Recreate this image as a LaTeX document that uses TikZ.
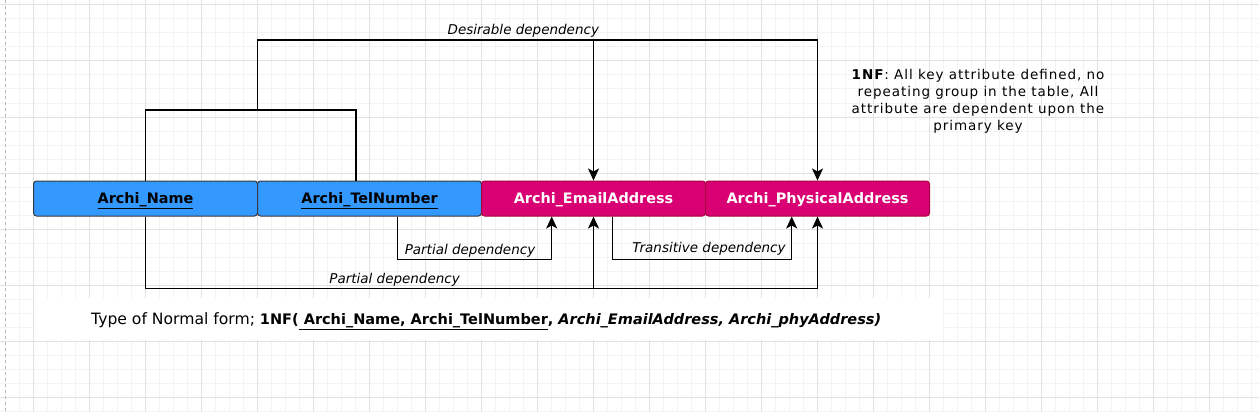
\documentclass[tikz,border=0pt]{standalone}
\usepackage{fontspec}
\setmainfont{DejaVu Sans}
\newfontfamily\spacedfont[LetterSpace=7]{DejaVu Sans}
\usetikzlibrary{arrows.meta}
\definecolor{minorc}{HTML}{F3F3F3}
\definecolor{majorc}{HTML}{E2E2E2}
\definecolor{keyblue}{HTML}{3399FF}
\definecolor{boxline}{HTML}{36393D}
\definecolor{attrpink}{HTML}{D80073}
\definecolor{pinkline}{HTML}{A50040}
\definecolor{pageline}{HTML}{BBBBBB}
\begin{document}
\begin{tikzpicture}[x=1pt,y=-1pt,
  ln/.style={line width=1.3pt, draw=black},
  arr/.style={ln, -{Stealth[length=12pt,width=11pt,inset=3pt]}},
  keybox/.style={draw=boxline, fill=keyblue, rounded corners=3pt, minimum width=224pt, minimum height=35pt, line width=1pt, inner sep=0pt, text depth=1pt, font=\fontsize{14.4}{16}\selectfont\bfseries},
  attrbox/.style={keybox, draw=pinkline, fill=attrpink, text=white},
  lbl/.style={font=\fontsize{13.5}{16}\selectfont\itshape, inner sep=0pt}]
\useasboundingbox (0,0) rectangle (1259,412);
\fill[white] (0,0) rectangle (1259,412);
% grid
\foreach \x in {5,19,...,1259} \draw[minorc, line width=1pt] (\x,0) -- (\x,412);
\foreach \y in {5,19,...,412} \draw[minorc, line width=1pt] (0,\y) -- (1259,\y);
\foreach \x in {33,89,...,1259} \draw[majorc, line width=1pt] (\x,0) -- (\x,412);
\foreach \y in {5,61,...,412} \draw[majorc, line width=1pt] (0,\y) -- (1259,\y);
\draw[pageline, line width=1pt, dash pattern=on 3pt off 3pt] (5,0) -- (5,412);
\fill[white] (34,298) rectangle (943,340);

% boxes
\node[keybox] (name) at (145.5,198.5) {\underline{Archi\_Name}};
\node[keybox] (tel) at (369.5,198.5) {\underline{Archi\_TelNumber}};
\node[attrbox] (email) at (593.5,198.5) {Archi\_EmailAddress};
\node[attrbox] (phys) at (817.5,198.5) {Archi\_PhysicalAddress};

% composite key and desirable dependency
\coordinate (kj) at (257.3,110);
\coordinate (dtop) at (257.3,40);
\draw[ln] (name.north) |- (kj) -| ([xshift=-13.5pt]tel.north);
\draw[ln] (kj) -- (dtop);
\draw[arr] (dtop) -| (phys.north);
\draw[arr] (dtop -| email.north) -- (email.north);
\node[lbl] (ldes) at (523.3,30.5) {Desirable dependency};

% partial dependency (upper)
\draw[arr] ([xshift=28.2pt]tel.south) -- ++(0,43) -| ([xshift=-41.8pt]email.south);
\node[lbl] (lp1) at (470,251) {Partial dependency};

% transitive dependency
\draw[arr] ([xshift=18.8pt]email.south) -- ++(0,43) -| ([xshift=-25.8pt]phys.south);
\node[lbl] (ltr) at (709,248.5) {Transitive dependency};

% partial dependency (lower)
\coordinate (lp) at (145.5,288.3);
\draw[arr] (name.south) -- (lp) -| (phys.south);
\draw[arr] (lp -| email.south) -- (email.south);
\node[lbl] (lp2) at (394.6,279.5) {Partial dependency};

% description
\node[align=center, inner sep=0pt, font=\spacedfont\fontsize{13.5}{16.8}\selectfont] (desc) at (978,101.4)
  {\textbf{1NF}: All key attribute defined, no\\repeating group in the table, All\\attribute are dependent upon the\\primary key};

% bottom text
\node[anchor=west, inner sep=0pt] (nf) at (91,321)
  {\fontsize{15.6}{18}\selectfont Type of Normal form; \fontsize{14.5}{18}\selectfont\bfseries 1NF(\underline{\ Archi\_Name,\ Archi\_TelNumber}, \textit{Archi\_EmailAddress, Archi\_phyAddress)}};
\end{tikzpicture}
\end{document}
